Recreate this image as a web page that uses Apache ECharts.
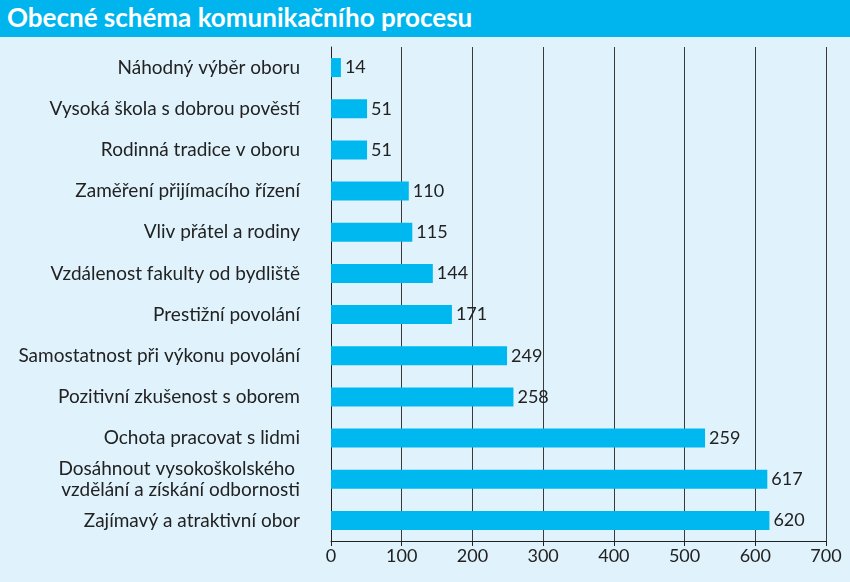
<!DOCTYPE html>
<html>
<head>
<meta charset="utf-8">
<script src="https://cdn.jsdelivr.net/npm/echarts@6/dist/echarts.min.js"></script>
<style>
html,body{margin:0;padding:0;background:#e0f3fc;}
#title{position:absolute;left:0;top:0;width:850px;height:37px;background:#00b5ee;color:#fff;font-family:Lato,"Open Sans",sans-serif;font-weight:bold;font-size:26px;line-height:35px;padding-left:7px;box-sizing:border-box;}
#chart{position:absolute;left:0;top:0;width:850px;height:582px;}
</style>
</head>
<body>
<div id="chart"></div>
<div id="title">Obecné schéma komunikačního procesu</div>
<script>
const categories = [
  "Náhodný výběr oboru",
  "Vysoká škola s dobrou pověstí",
  "Rodinná tradice v oboru",
  "Zaměření přijímacího řízení",
  "Vliv přátel a rodiny",
  "Vzdálenost fakulty od bydliště",
  "Prestižní povolání",
  "Samostatnost při výkonu povolání",
  "Pozitivní zkušenost s oborem",
  "Ochota pracovat s lidmi",
  "Dosáhnout vysokoškolského\u00a0\nvzdělání a získání odbornosti",
  "Zajímavý a atraktivní obor"
];
// bar lengths as drawn in the picture
const barValues = [14, 51, 51, 110, 115, 144, 171, 249, 258, 529, 617, 620];
// value labels as printed in the picture
const valueLabels = ["14", "51", "51", "110", "115", "144", "171", "249", "258", "259", "617", "620"];
const xTicks = [0, 100, 200, 300, 400, 500, 600, 700];

const chart = echarts.init(document.getElementById('chart'));
chart.setOption({
  backgroundColor: '#e0f3fc',
  animation: false,
  grid: {left: 331, right: 24, top: 47, bottom: 41},
  xAxis: {
    type: 'value', min: xTicks[0], max: xTicks[xTicks.length - 1], interval: 100,
    axisLine: {show: true, lineStyle: {color: '#222', width: 1}},
    axisTick: {show: true, length: 5, lineStyle: {color: '#222'}},
    axisLabel: {color: '#222', fontSize: 18, fontFamily: 'Lato, "Open Sans", sans-serif', margin: 6},
    splitLine: {show: true, lineStyle: {color: '#3a3a3a', width: 1}}
  },
  yAxis: {
    type: 'category', data: categories, inverse: true,
    axisLine: {show: true, lineStyle: {color: '#222', width: 1}},
    axisTick: {show: false},
    axisLabel: {color: '#222', fontSize: 19, fontFamily: 'Lato, "Open Sans", sans-serif', margin: 31, lineHeight: 21, align: 'right'}
  },
  series: [{
    type: 'bar',
    data: barValues,
    barWidth: 19,
    itemStyle: {color: '#00b8f0'},
    label: {
      show: true, position: 'right', distance: 4,
      color: '#222', fontSize: 18, fontFamily: 'Lato, "Open Sans", sans-serif',
      formatter: p => valueLabels[p.dataIndex]
    }
  }]
});
</script>
</body>
</html>
